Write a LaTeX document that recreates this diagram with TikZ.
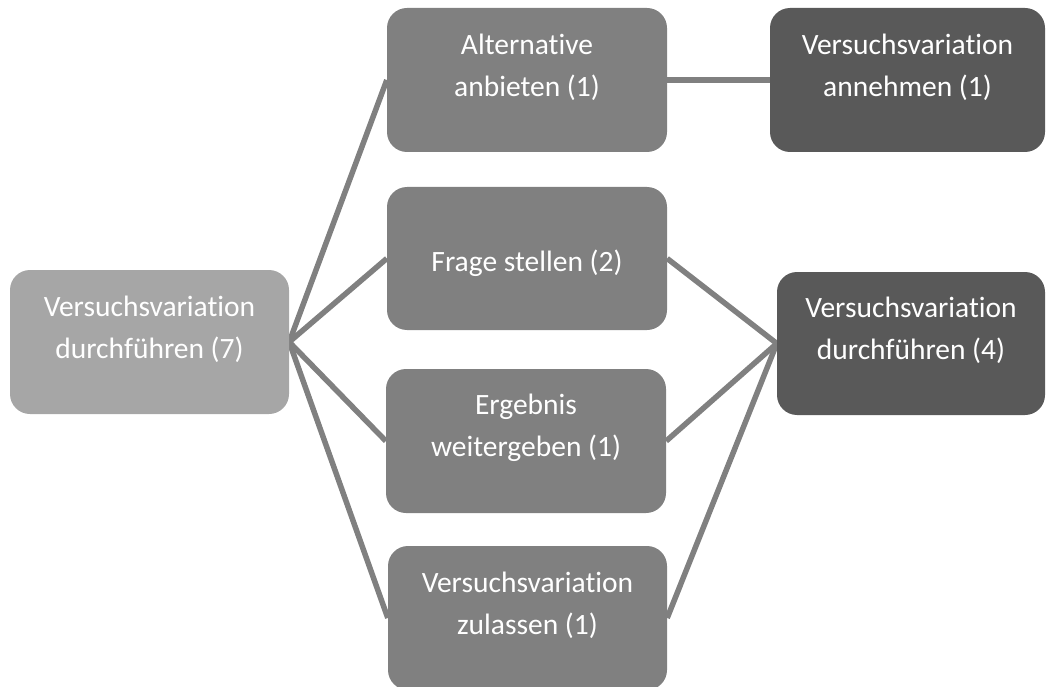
\documentclass[tikz,border=0pt]{standalone}
\usepackage{fontspec}
\setmainfont{Carlito}[RawFeature={-liga;-clig;-calt;-dlig;-rlig}]
\usetikzlibrary{backgrounds}
\definecolor{lightbox}{HTML}{A6A6A6}
\definecolor{midbox}{HTML}{808080}
\definecolor{darkbox}{HTML}{595959}
\definecolor{linkgray}{HTML}{808080}
\begin{document}
\begin{tikzpicture}[x=1pt,y=1pt,
  box/.style={rectangle, rounded corners=20pt, draw=none, inner sep=0pt,
    minimum width=280pt, minimum height=144pt},
  txt/.style={text=white, inner sep=0pt, anchor=base,
    font=\fontsize{29.5}{41.5}\selectfont},
  link/.style={draw=linkgray, line width=5.5pt}]
\useasboundingbox (0,0) rectangle (1046,-687);
% boxes
\node[box, fill=lightbox, minimum width=279pt] (L) at (149.5,-342) {};
\node[box, fill=midbox] (A) at (527,-80) {};
\node[box, fill=midbox, minimum height=143pt] (F) at (527,-258.5) {};
\node[box, fill=midbox] (E) at (526,-441) {};
\node[box, fill=midbox, minimum width=279pt] (Z) at (527.5,-618) {};
\node[box, fill=darkbox, minimum width=275pt] (V1) at (907.5,-80) {};
\node[box, fill=darkbox, minimum width=268pt, minimum height=143pt] (V4) at (911,-343.5) {};
% texts
\node[txt] (tL) at ([yshift=-47pt]L.north) {\begin{tabular}[t]{@{}c@{}}Versuchsvariation\\durchführen (7)\end{tabular}};
\node[txt] (tA) at ([yshift=-47pt]A.north) {\begin{tabular}[t]{@{}c@{}}Alternative\\anbieten (1)\end{tabular}};
\node[txt] (tF) at ([yshift=-85pt]F.north) {Frage stellen (2)};
\node[txt] (tE) at ([yshift=-46pt]E.north) {\begin{tabular}[t]{@{}c@{}}Ergebnis\\weitergeben (1)\end{tabular}};
\node[txt] (tZ) at ([yshift=-47pt]Z.north) {\begin{tabular}[t]{@{}c@{}}Versuchsvariation\\zulassen (1)\end{tabular}};
\node[txt] (tV1) at ([yshift=-47pt]V1.north) {\begin{tabular}[t]{@{}c@{}}Versuchsvariation\\annehmen (1)\end{tabular}};
\node[txt] (tV4) at ([yshift=-46pt]V4.north) {\begin{tabular}[t]{@{}c@{}}Versuchsvariation\\durchführen (4)\end{tabular}};
% connectors
\begin{scope}[on background layer]
\draw[link] (L.east) -- (A.west);
\draw[link] (L.east) -- (F.west);
\draw[link] (L.east) -- (E.west);
\draw[link] (L.east) -- (Z.west);
\draw[link] (A.east) -- (V1.west);
\draw[link] (F.east) -- (V4.west);
\draw[link] (E.east) -- (V4.west);
\draw[link] (Z.east) -- (V4.west);
\end{scope}
\end{tikzpicture}
\end{document}
